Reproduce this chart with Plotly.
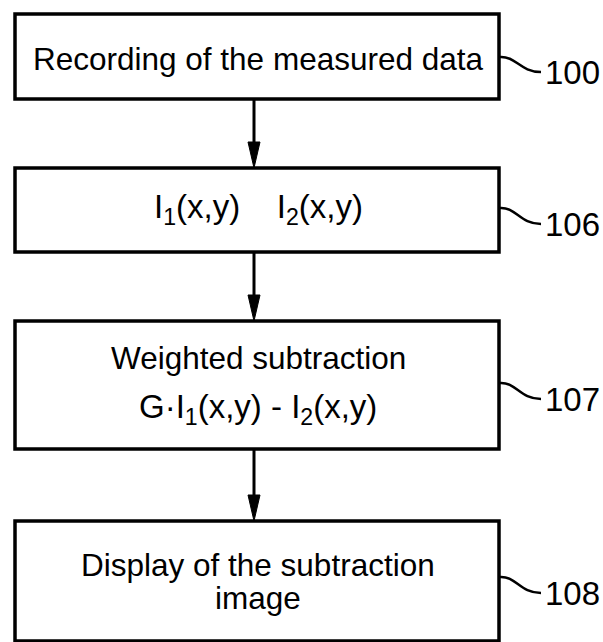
import plotly.graph_objects as go

# --- data ---
step_lines = [
    ["Recording of the measured data"],
    ["I<sub>1</sub>(x,y)    I<sub>2</sub>(x,y)"],
    ["Weighted subtraction", "G·I<sub>1</sub>(x,y) - I<sub>2</sub>(x,y)"],
    ["Display of the subtraction", "image"],
]
ref_numbers = ["100", "106", "107", "108"]

# --- layout geometry (pixel space) ---
W, H = 603, 642
box_left, box_right = 15, 499
box_tops = [14, 168, 321, 521]
box_bottoms = [99, 252, 449, 641]
line_y = [[59], [209], [358, 409], [565, 598]]
line_size = [[31.5], [33], [31.5, 33], [31.5, 31.5]]
ref_y = [72, 224, 399, 593]
squig_start_y = [57, 208, 383, 577]
arrow_x = 254

FONT = "Liberation Sans, Arial, sans-serif"

fig = go.Figure()
shapes = []
annotations = []
for i in range(len(step_lines)):
    shapes.append(dict(type="rect", x0=box_left, x1=box_right, y0=box_tops[i], y1=box_bottoms[i],
                       line=dict(color="black", width=3.5), fillcolor="white", layer="below"))
    for txt, yy, sz in zip(step_lines[i], line_y[i], line_size[i]):
        annotations.append(dict(x=(box_left + box_right) / 2 + 1, y=yy, text=txt,
                                showarrow=False, xanchor="center", yanchor="middle",
                                font=dict(family=FONT, size=sz, color="black")))
    # squiggle leader
    sx, sy = box_right + 1, squig_start_y[i]
    ex, ey = box_right + 42, ref_y[i]
    shapes.append(dict(type="path",
                       path=f"M {sx},{sy} C {sx+16},{sy-1} {sx+20},{ey} {ex},{ey}",
                       line=dict(color="black", width=2.5)))
    annotations.append(dict(x=box_right + 44, y=ref_y[i], text=ref_numbers[i], showarrow=False,
                            xanchor="left", yanchor="middle",
                            font=dict(family=FONT, size=33, color="black")))
    if i < len(step_lines) - 1:
        y0 = box_bottoms[i]
        y1 = box_tops[i + 1]
        shapes.append(dict(type="line", x0=arrow_x, x1=arrow_x, y0=y0, y1=y1 - 20,
                           line=dict(color="black", width=3)))
        shapes.append(dict(type="path",
                           path=f"M {arrow_x-6},{y1-26} L {arrow_x+6},{y1-26} L {arrow_x},{y1} Z",
                           fillcolor="black", line=dict(color="black", width=1)))

fig.update_layout(
    width=W, height=H,
    margin=dict(l=0, r=0, t=0, b=0),
    paper_bgcolor="white", plot_bgcolor="white",
    xaxis=dict(range=[0, W], visible=False, fixedrange=True),
    yaxis=dict(range=[H, 0], visible=False, fixedrange=True),
    shapes=shapes, annotations=annotations,
    showlegend=False,
)
fig.write_html("out.html", config={"displayModeBar": False},
               post_script="document.body.style.margin='0';document.body.style.overflow='hidden';")
